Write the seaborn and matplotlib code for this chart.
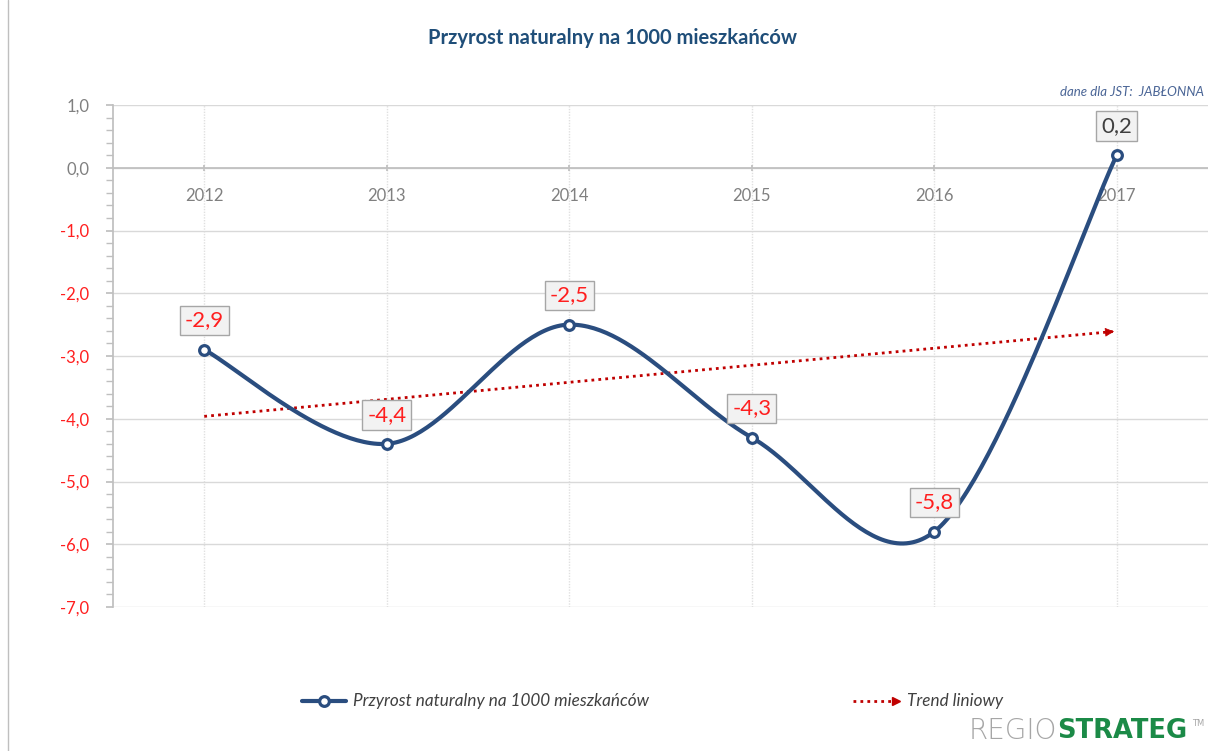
import numpy as np
import matplotlib.pyplot as plt
import seaborn as sns
from matplotlib.ticker import MultipleLocator
from matplotlib.lines import Line2D

# data
years = ["2012", "2013", "2014", "2015", "2016", "2017"]
values = [-2.9, -4.4, -2.5, -4.3, -5.8, 0.2]
y_ticks = [-7, -6, -5, -4, -3, -2, -1, 0, 1]

title = "Przyrost naturalny na 1000 mieszkańców"
series_name = "Przyrost naturalny na 1000 mieszkańców"
trend_name = "Trend liniowy"
subtitle = "dane dla JST:  JABŁONNA"

BLUE = "#2a4d7f"
RED = "#c00000"
LABEL_RED = "#ff1f1f"
GRAY = "#808080"

sns.set_theme(style="white")
plt.rcParams['font.family'] = ['Lato', 'DejaVu Sans']

fig = plt.figure(figsize=(12.08, 7.51), dpi=100)
ax = fig.add_axes([113 / 1208, 1 - 607 / 751, 1 - 113 / 1208, (607 - 105) / 751])

idx = np.arange(len(years), dtype=float)
vals = np.array(values)


# Excel-style smoothed line (Catmull-Rom -> cubic Bezier)
def smooth(x, y, n=60):
    px = np.concatenate([[x[0]], x, [x[-1]]])
    py = np.concatenate([[y[0]], y, [y[-1]]])
    xs, ys = [], []
    t = np.linspace(0, 1, n)
    for i in range(1, len(px) - 2):
        p0 = np.array([px[i], py[i]])
        p3 = np.array([px[i + 1], py[i + 1]])
        c1 = p0 + (np.array([px[i + 1], py[i + 1]]) - np.array([px[i - 1], py[i - 1]])) / 6
        c2 = p3 - (np.array([px[i + 2], py[i + 2]]) - np.array([px[i], py[i]])) / 6
        b = ((1 - t) ** 3)[:, None] * p0 + (3 * (1 - t) ** 2 * t)[:, None] * c1 \
            + (3 * (1 - t) * t ** 2)[:, None] * c2 + (t ** 3)[:, None] * p3
        xs.extend(b[:, 0])
        ys.extend(b[:, 1])
    return np.array(xs), np.array(ys)


sx, sy = smooth(idx, vals)
sns.lineplot(x=sx, y=sy, sort=False, ax=ax, color=BLUE, lw=3, zorder=4)
ax.plot(idx, vals, 'o', ms=7, mfc='white', mec=BLUE, mew=2.3, zorder=5)

# linear trend
slope, inter = np.polyfit(idx, vals, 1)
tx = np.array([idx[0], idx[-1]])
sns.lineplot(x=tx, y=slope * tx + inter, ax=ax, color=RED, lw=2, linestyle=(0, (1, 1.5)), zorder=3)
ax.annotate('', xy=(tx[-1], slope * tx[-1] + inter),
            xytext=(tx[-1] - 0.05, slope * (tx[-1] - 0.05) + inter),
            arrowprops=dict(arrowstyle='-|>', color=RED, lw=0.5, mutation_scale=14), zorder=3)

# data labels
for i, v in enumerate(values):
    ax.annotate(f"{v:.1f}".replace('.', ','), xy=(idx[i], v), xytext=(0, 21),
                textcoords='offset points', ha='center', va='center', fontsize=16,
                color=LABEL_RED if v < 0 else '#404040', zorder=6,
                bbox=dict(boxstyle='square,pad=0.22', fc='#f2f2f2', ec='#a6a6a6', lw=1))

# axes styling
ax.set_xlim(-0.5, len(years) - 0.5)
ax.set_ylim(-7, 1)
ax.set_xticks(idx)
ax.set_xticklabels(years)
ax.set_yticks(y_ticks)
ax.set_yticklabels([f"{t:.1f}".replace('.', ',') for t in y_ticks])
ax.yaxis.set_minor_locator(MultipleLocator(0.2))
for lbl, t in zip(ax.get_yticklabels(), y_ticks):
    lbl.set_color(LABEL_RED if t < 0 else GRAY)

ax.grid(axis='y', color='#d9d9d9', lw=1)
ax.grid(axis='x', color='#e0e0e0', lw=1, linestyle=(0, (1, 1)))
ax.set_axisbelow(True)
for s in ['top', 'right']:
    ax.spines[s].set_visible(False)
ax.spines['left'].set_color('#bfbfbf')
ax.spines['bottom'].set_color('#bfbfbf')
ax.spines['bottom'].set_position(('data', 0))
ax.tick_params(axis='x', direction='inout', length=5, color='#bfbfbf', labelsize=12,
               labelcolor=GRAY, pad=12, bottom=True)
ax.tick_params(axis='y', which='major', direction='out', length=5, color='#bfbfbf',
               labelsize=12, pad=12, left=True)
ax.tick_params(axis='y', which='minor', direction='out', length=5, color='#bfbfbf', left=True)

# titles
fig.text(613 / 1208, 1 - 38 / 751, title, ha='center', va='center', fontsize=14.5,
         fontweight='bold', color='#1f4e79')
fig.text(1204 / 1208, 1 - 92 / 751, subtitle, ha='right', va='center', fontsize=9.5,
         style='italic', color='#4a6596')


# legend drawn in figure pixels
def fx(p):
    return p / 1208


def fy(p):
    return 1 - p / 751


ly = 701
fig.add_artist(Line2D([fx(302), fx(346)], [fy(ly), fy(ly)], color=BLUE, lw=3))
fig.add_artist(Line2D([fx(324)], [fy(ly)], marker='o', ms=7, mfc='white', mec=BLUE, mew=2.3))
fig.text(fx(353), fy(ly), series_name, ha='left', va='center', fontsize=12.3,
         style='italic', color='#404040')
fig.add_artist(Line2D([fx(853), fx(893)], [fy(ly), fy(ly)], color=RED, lw=2,
                      linestyle=(0, (1, 1.5))))
fig.add_artist(Line2D([fx(896)], [fy(ly)], marker='>', ms=6, color=RED, lw=0))
fig.text(fx(907), fy(ly), trend_name, ha='left', va='center', fontsize=12.3,
         style='italic', color='#404040')

# logo
fig.text(fx(1057), fy(731), "REGIO", ha='right', va='center', fontsize=20,
         family='DejaVu Sans', fontweight='light', color='#a6a6a6')
fig.text(fx(1057), fy(731), "STRATEG", ha='left', va='center', fontsize=18.5,
         family='DejaVu Sans', fontweight='bold', color='#1b8a47')
fig.text(fx(1192), fy(724), "TM", ha='left', va='center', fontsize=6,
         family='DejaVu Sans', color='#a6a6a6')

# chart frame left edge
fig.add_artist(Line2D([fx(8), fx(8)], [0, 1], color='#bfbfbf', lw=1))

fig.savefig("out.png", dpi=100)
